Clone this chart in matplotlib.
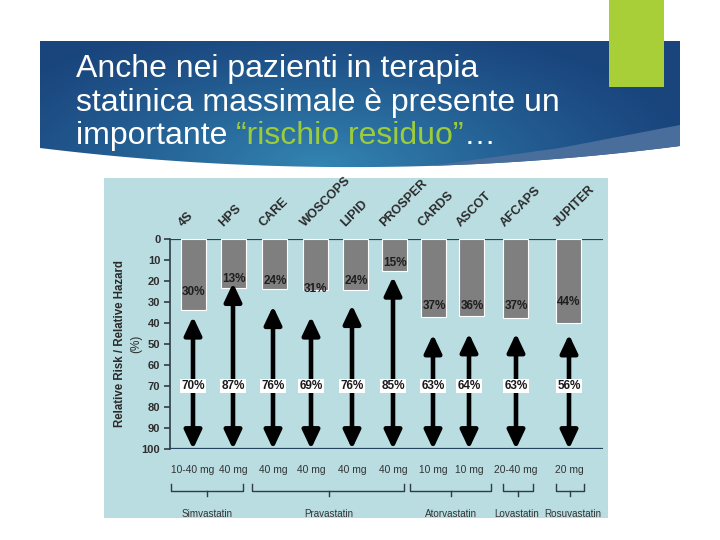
import numpy as np
import matplotlib
matplotlib.use('Agg')
import matplotlib.pyplot as plt
from matplotlib.patches import Rectangle, Polygon

plt.rcParams['font.family'] = ['Liberation Sans', 'DejaVu Sans']

# ---- data ----
studies = ['4S', 'HPS', 'CARE', 'WOSCOPS', 'LIPID', 'PROSPER', 'CARDS', 'ASCOT', 'AFCAPS', 'JUPITER']
reduction = ['30%', '13%', '24%', '31%', '24%', '15%', '37%', '36%', '37%', '44%']
residual = ['70%', '87%', '76%', '69%', '76%', '85%', '63%', '64%', '63%', '56%']
bar_depth = [34, 23.5, 24, 24.5, 24.5, 15, 37, 36.5, 37.5, 40]
arrow_top = [37, 21, 32, 37, 31.5, 18, 45.5, 45, 45, 45.5]
label_depth = [25, 19, 20, 24, 20, 11.5, 32, 32, 32, 30]
doses = ['10-40 mg', '40 mg', '40 mg', '40 mg', '40 mg', '40 mg', '10 mg', '10 mg', '20-40 mg', '20 mg']
drugs = ['Simvastatin', 'Pravastatin', 'Atorvastatin', 'Lovastatin', 'Rosuvastatin']
yticks = [0, 10, 20, 30, 40, 50, 60, 70, 80, 90, 100]

# layout (pixel-like x positions inside the chart)
bar_x = [194, 234, 275, 316, 356, 395, 434, 472, 516, 569]
arrow_x = [193, 233, 273, 311, 352, 393, 433, 469, 516, 569]
bracket_x = [(171, 243), (252, 404), (410, 491), (503, 533), (556, 584)]
bracket_mid = [207, 329, 451, 518, 570]
drug_x = [207, 329, 451, 517, 573]

W, H = 720, 540
fig = plt.figure(figsize=(7.2, 5.4), dpi=100)
fig.patch.set_facecolor('white')

# ---- slide background layer in pixel coords ----
bg = fig.add_axes([0, 0, 1, 1])
bg.set_xlim(0, W)
bg.set_ylim(H, 0)
bg.axis('off')

# banner with curved bottom
xs = np.linspace(40, 680, 100)
curve = np.poly1d(np.polyfit([40, 330, 680], [148, 167, 146], 2))
outer = curve(xs)
poly_pts = [(40, 41), (680, 41)] + list(zip(xs[::-1], outer[::-1]))
banner = Polygon(poly_pts, closed=True, facecolor='none', edgecolor='none')
bg.add_patch(banner)

gx, gy = np.meshgrid(np.linspace(40, 680, 320), np.linspace(41, 170, 70))
d = np.sqrt(((gx - 320) / 380) ** 2 + ((gy - 165) / 150) ** 2)
t = np.clip(1 - d, 0, 1) ** 1.2
dark = np.array([0.10, 0.27, 0.49])
light = np.array([0.20, 0.52, 0.70])
img = dark[None, None, :] * (1 - t[..., None]) + light[None, None, :] * t[..., None]
im = bg.imshow(img, extent=(40, 680, 170, 41), origin='upper', aspect='auto', zorder=1)
im.set_clip_path(banner)

# lighter band at the lower right of the banner
xb = np.linspace(430, 680, 40)
inner = np.interp(xb, [430, 560, 680], [curve(430), 148, 125])
band = list(zip(xb, inner)) + list(zip(xb[::-1], curve(xb[::-1])))
bg.add_patch(Polygon(band, closed=True, facecolor='#4a6e9b', edgecolor='none', zorder=2))

# green square
bg.add_patch(Rectangle((609, 0), 55, 87, facecolor='#a8cf38', edgecolor='none', zorder=3))

# title
tkw = dict(fontsize=23, color='white', va='baseline', ha='left', zorder=4)
bg.text(76, 77, 'Anche nei pazienti in terapia', **tkw)
bg.text(76, 111, 'statinica massimale è presente un', **tkw)
t1 = bg.text(76, 144, 'importante ', **tkw)
fig.canvas.draw()
r = fig.canvas.get_renderer()
inv = bg.transData.inverted()
x1 = inv.transform(t1.get_window_extent(r))[1][0]
t2 = bg.text(x1, 144, '\u201crischio residuo\u201d', **{**tkw, 'color': '#9ccc3c'})
x2 = inv.transform(t2.get_window_extent(r))[1][0]
bg.text(x2, 144, '\u2026', **tkw)

# chart image background
bg.add_patch(Rectangle((104, 178), 504, 340, facecolor='#badde2', edgecolor='none', zorder=1))

# ---- chart axes: x in pixels 170..603, y 0..100 at px 239..449 ----
ax = fig.add_axes([170 / W, 1 - 449 / H, (603 - 170) / W, (449 - 239) / H])
ax.set_xlim(170, 603)
ax.set_ylim(100, 0)
ax.patch.set_alpha(0)
for s in ['top', 'right', 'bottom']:
    ax.spines[s].set_visible(False)
ax.spines['left'].set_color('#2f3b45')
ax.spines['left'].set_linewidth(1.2)
ax.set_xticks([])
ax.set_yticks(yticks)
ax.tick_params(axis='y', direction='out', length=4, width=1.2, color='#2f3b45', pad=3)
for lab in ax.get_yticklabels():
    lab.set_fontsize(8)
    lab.set_fontweight('bold')
    lab.set_color('#2e2e2e')

ax.axhline(0, color='#24435e', lw=1.6, zorder=2)
ax.axhline(100, color='#24435e', lw=1.6, zorder=2)

ax.bar(bar_x, bar_depth, width=25, bottom=0, color='#7f7f7f', edgecolor='white',
       linewidth=0.8, zorder=3)

for i in range(len(studies)):
    ax.text(bar_x[i], label_depth[i], reduction[i], ha='center', va='center',
            fontsize=8.5, fontweight='bold', color='#1e1e1e', zorder=4)
    ax.annotate('', xy=(arrow_x[i], 100), xytext=(arrow_x[i], arrow_top[i]),
                arrowprops=dict(arrowstyle='<|-|>,head_length=1.1,head_width=0.52',
                                lw=3.3, color='black', shrinkA=0, shrinkB=0),
                zorder=4)
    ax.text(arrow_x[i], 70, residual[i], ha='center', va='center', fontsize=8.5,
            fontweight='bold', color='#1a1a1a', zorder=5,
            bbox=dict(boxstyle='square,pad=0.1', facecolor='white', edgecolor='none'))
    ax.text(bar_x[i] - 9, -4.5, studies[i], rotation=45, rotation_mode='anchor',
            ha='left', va='bottom', fontsize=9, fontweight='bold', color='#2a2a2a',
            clip_on=False)
    ax.text(arrow_x[i], 110, doses[i], ha='center', va='center', fontsize=7.4,
            color='#333333', clip_on=False)

for (xa, xb_), xm, xt, name in zip(bracket_x, bracket_mid, drug_x, drugs):
    ax.plot([xa, xa, xb_, xb_], [116.5, 120, 120, 116.5], color='#2f3b45', lw=1,
            clip_on=False)
    ax.plot([xm, xm], [120, 122.5], color='#2f3b45', lw=1, clip_on=False)
    ax.text(xt, 131, name, ha='center', va='center', fontsize=7.1, color='#333333',
            clip_on=False)

ax.text(120, 50, 'Relative Risk / Relative Hazard', rotation=90, ha='center',
        va='center', fontsize=8.3, fontweight='bold', color='#2a2a2a', clip_on=False)
ax.text(136, 50, '(%)', rotation=90, ha='center', va='center', fontsize=8.5,
        color='#2a2a2a', clip_on=False)

fig.savefig('out.png', dpi=100, facecolor='white')
